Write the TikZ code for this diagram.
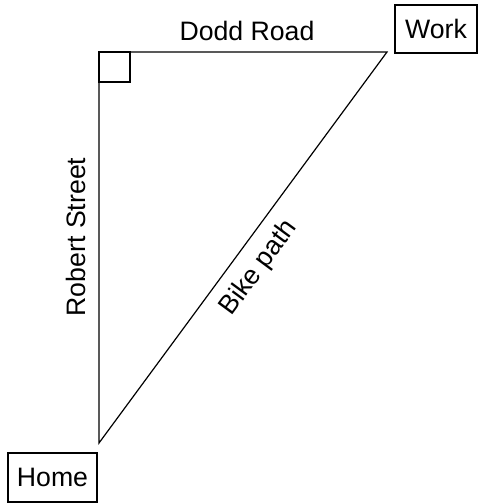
\documentclass[tikz,border=0pt]{standalone}
\usepackage{fontspec}
\setmainfont{Liberation Sans}
\begin{document}
\begin{tikzpicture}[x=0.75pt,y=-0.75pt,
  lbl/.style={font=\fontsize{20}{24}\selectfont, inner sep=0pt},
  place/.style={draw, line width=0.9pt, font=\fontsize{20}{24}\selectfont, inner sep=0pt},
  road/.style={line width=0.9pt}]
\useasboundingbox (0,0) rectangle (478,503);
\coordinate (A) at (99,52);
\coordinate (B) at (387,52);
\coordinate (C) at (99,443);
\draw[road] (A) -- (B) -- (C) -- cycle;
\draw[line width=1.1pt] (A) rectangle ++(31,30);
\node[place, minimum width=89*0.75pt, minimum height=49*0.75pt] (home) at (52.5,477.5) {Home};
\node[place, minimum width=82*0.75pt, minimum height=48*0.75pt] (work) at (436,29) {Work};
\node[lbl] (dodd) at (247,31) {Dodd Road};
\node[lbl, rotate=90] (robert) at (76,237) {Robert Street};
\node[lbl, rotate=53.6] (bike) at (259,268) {Bike path};
\end{tikzpicture}
\end{document}
